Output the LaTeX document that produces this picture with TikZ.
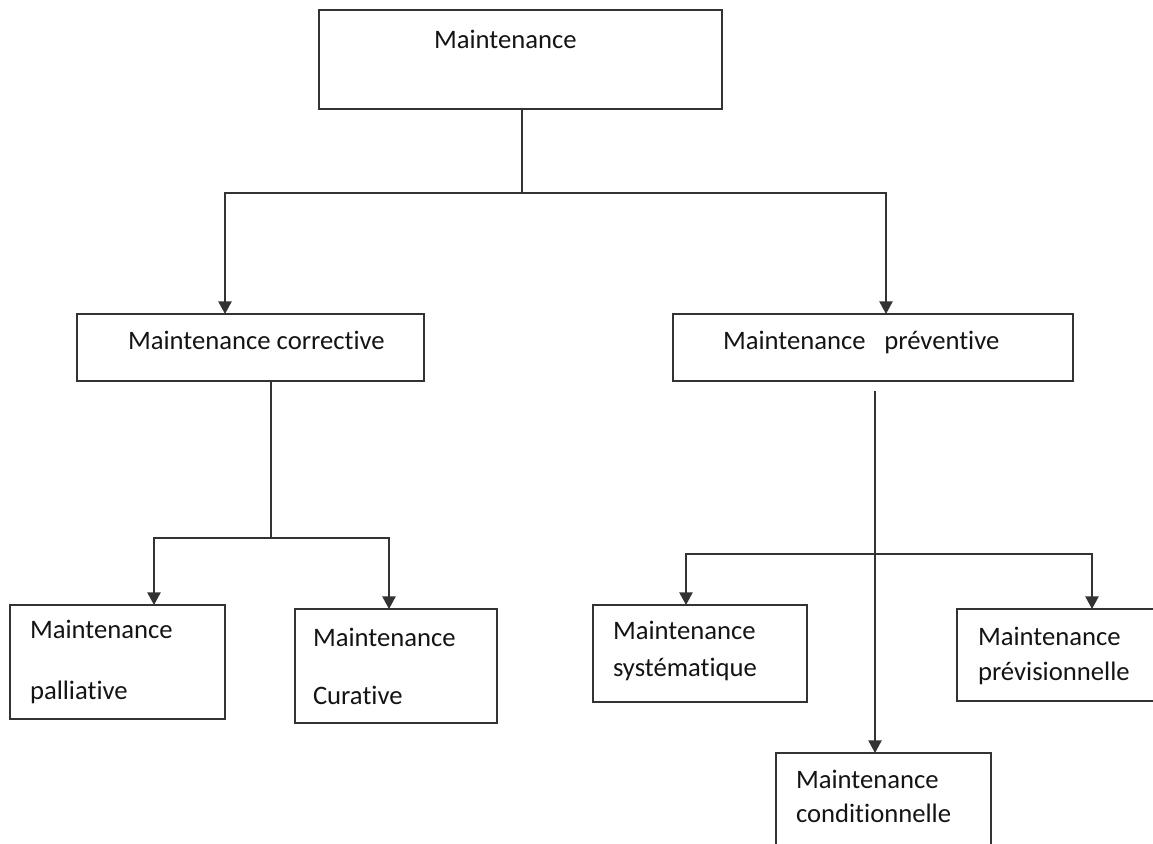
\documentclass[tikz,border=0pt]{standalone}
\usepackage{fontspec}
\setmainfont{Carlito}[Ligatures={NoCommon}]
\usetikzlibrary{arrows.meta}
\begin{document}
\begin{tikzpicture}[x=0.75pt,y=-0.75pt,
  box/.style={draw=black!80, line width=1.1pt, inner sep=0pt, outer sep=0pt, anchor=north west},
  lbl/.style={anchor=base west, inner sep=0pt, outer sep=0pt, font=\fontsize{20}{24}\selectfont, text=black!92},
  wire/.style={draw=black!80, line width=1.1pt},
  arr/.style={wire, -{Triangle[length=9.5pt,width=10pt]}}]
\useasboundingbox (0,0) rectangle (1153,843);
\clip (0,0) rectangle (1153,843);
% boxes
\node[box, minimum width=403*0.75pt, minimum height=99*0.75pt] (top) at (319,10) {};
\node[box, minimum width=347*0.75pt, minimum height=67*0.75pt] (corr) at (77,314) {};
\node[box, minimum width=400*0.75pt, minimum height=67*0.75pt] (prev) at (673,314) {};
\node[box, minimum width=215*0.75pt, minimum height=114*0.75pt] (pall) at (10,605) {};
\node[box, minimum width=202*0.75pt, minimum height=114*0.75pt] (cura) at (295,609) {};
\node[box, minimum width=214*0.75pt, minimum height=97*0.75pt] (syst) at (593,605) {};
\node[box, minimum width=203*0.75pt, minimum height=92*0.75pt] (prevs) at (957,609) {};
\node[box, minimum width=215*0.75pt, minimum height=100*0.75pt] (cond) at (776,753) {};
% texts
\node[lbl] (tTop) at (434,48) {Maintenance};
\node[lbl] (tCorr) at (128,349) {Maintenance corrective};
\node[lbl] (tPrev) at (723,349) {Maintenance\hspace{14pt}préventive};
\node[lbl] (tPallA) at (30,638) {Maintenance};
\node[lbl] (tPallB) at (30,699) {palliative};
\node[lbl] (tCuraA) at (313,646) {Maintenance};
\node[lbl] (tCuraB) at (313,704) {Curative};
\node[lbl] (tSystA) at (613,639) {Maintenance};
\node[lbl] (tSystB) at (613,676) {systématique};
\node[lbl] (tPrevsA) at (978,645) {Maintenance};
\node[lbl] (tPrevsB) at (978,680) {prévisionnelle};
\node[lbl] (tCondA) at (796,788) {Maintenance};
\node[lbl] (tCondB) at (796,822) {conditionnelle};
% connector points
\path (top.south west) ++(203,0) coordinate (outTop);
\path (outTop) ++(0,84) coordinate (jA);
\path (corr.north west) ++(148,0) coordinate (inCorr);
\path (prev.north west) ++(213,0) coordinate (inPrev);
\path (corr.south west) ++(194,0) coordinate (outCorr);
\path (outCorr) ++(0,157) coordinate (jB);
\path (pall.north west) ++(144,0) coordinate (inPall);
\path (cura.north west) ++(94,0) coordinate (inCura);
\path (prev.south west) ++(202,10) coordinate (outPrev);
\path (outPrev) ++(0,163) coordinate (jC);
\path (syst.north west) ++(93,0) coordinate (inSyst);
\path (prevs.north west) ++(135,0) coordinate (inPrevs);
\path (cond.north west) ++(99,0) coordinate (inCond);
% connectors
\draw[wire] (outTop) -- (jA);
\draw[arr] (jA) -| (inCorr);
\draw[arr] (jA) -| (inPrev);
\draw[wire] (outCorr) -- (jB);
\draw[arr] (jB) -| (inPall);
\draw[arr] (jB) -| (inCura);
\draw[arr] (outPrev) -- (inCond);
\draw[arr] (jC) -| (inSyst);
\draw[arr] (jC) -| (inPrevs);
\end{tikzpicture}
\end{document}
